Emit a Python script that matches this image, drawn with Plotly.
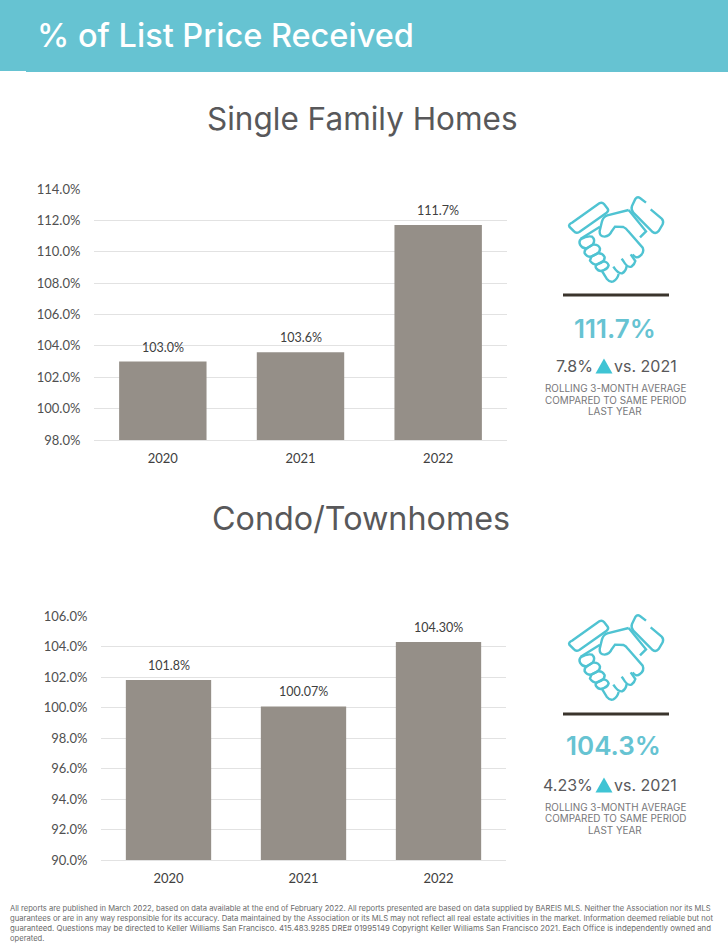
import plotly.graph_objects as go

W, H = 728, 949

# ---- data ----
years = ["2020", "2021", "2022"]
sfh_values = [103.0, 103.6, 111.7]
sfh_labels = ["103.0%", "103.6%", "111.7%"]
sfh_ticks = [98, 100, 102, 104, 106, 108, 110, 112, 114]
sfh_ticktext = ["98.0%", "100.0%", "102.0%", "104.0%", "106.0%", "108.0%", "110.0%", "112.0%", "114.0%"]
condo_values = [101.8, 100.07, 104.3]
condo_labels = ["101.8%", "100.07%", "104.30%"]
condo_ticks = [90, 92, 94, 96, 98, 100, 102, 104, 106]
condo_ticktext = ["90.0%", "92.0%", "94.0%", "96.0%", "98.0%", "100.0%", "102.0%", "104.0%", "106.0%"]

footer_lines = [
    "All reports are published in March 2022, based on data available at the end of February 2022. All reports presented are based on data supplied by BAREIS MLS. Neither the Association nor its MLS",
    "guarantees or are in any way responsible for its accuracy. Data maintained by the Association or its MLS may not reflect all real estate activities in the market. Information deemed reliable but not",
    "guaranteed. Questions may be directed to Keller Williams San Francisco. 415.483.9285 DRE# 01995149 Copyright Keller Williams San Francisco 2021. Each Office is independently owned and",
    "operated.",
]

TEAL = "#66C3D2"
ICON = "#4FC3D2"
GREY = "#58585A"
SMALL = "#77777A"
BAR = "#958F88"
GRID = "#E2E2E2"
HEAD = "Inter, 'Open Sans', sans-serif"
CHART = "Lato, 'Open Sans', sans-serif"


def px(x):
    return x / W


def py(y):
    return 1 - y / H


def dom_x(a, b):
    return [px(a), px(b)]


def dom_y(top, bottom):
    return [py(bottom), py(top)]


fig = go.Figure()
fig.add_trace(go.Bar(x=years, y=sfh_values, marker=dict(color=BAR), width=0.635,
                     xaxis="x", yaxis="y", showlegend=False, hoverinfo="skip"))
fig.add_trace(go.Bar(x=years, y=condo_values, marker=dict(color=BAR), width=0.632,
                     xaxis="x2", yaxis="y2", showlegend=False, hoverinfo="skip"))

annotations = []


def text(x, y, s, size, color=GREY, family=HEAD, xanchor="center", weight=None):
    f = dict(size=size, color=color, family=family)
    if weight:
        f["weight"] = weight
    annotations.append(dict(x=px(x), y=py(y), xref="paper", yref="paper", text=s, showarrow=False,
                            xanchor=xanchor, yanchor="middle", align="center", font=f))


for xa, ya, vals, labs in (("x", "y", sfh_values, sfh_labels), ("x2", "y2", condo_values, condo_labels)):
    for i, (v, l) in enumerate(zip(vals, labs)):
        annotations.append(dict(x=i, y=v, xref=xa, yref=ya, text=l, showarrow=False, yanchor="bottom",
                                yshift=5, font=dict(size=12.5, color="#404040", family=CHART)))

text(35, 36, "% of List Price Received", 32.5, "#FFFFFF", xanchor="left", weight=500)
text(362, 118, "Single Family Homes", 31.5)
text(361, 518, "Condo/Townhomes", 32.3)

text(615, 328, "111.7%", 26, TEAL, weight=600)
text(613, 745, "104.3%", 26, TEAL, weight=600)
text(595, 366, "7.8%", 16, xanchor="right")
text(612, 366, "vs. 2021", 16, xanchor="left")
text(595, 785, "4.23%", 16, xanchor="right")
text(612, 785, "vs. 2021", 16, xanchor="left")
for cy in (0, 418.5):
    text(615, 388 + cy, "ROLLING 3-MONTH AVERAGE", 9.9, SMALL)
    text(615, 399.5 + cy, "COMPARED TO SAME PERIOD", 9.9, SMALL)
    text(615, 411.5 + cy, "LAST YEAR", 9.9, SMALL)

for y, line, fs in zip((908, 918, 928, 938), footer_lines, (7.6, 7.7, 7.8, 7.6)):
    text(8, y, line, fs, "#6A6A6A", xanchor="left")


def path_px(cmds, ox=0, oy=0, scale=1.0):
    out = []
    for c in cmds:
        letter = c[0]
        vals = c[1:]
        pts = []
        for i in range(0, len(vals), 2):
            pts.append(f"{px(ox + vals[i] * scale):.5f},{py(oy + vals[i + 1] * scale):.5f}")
        out.append(letter + " ".join(pts))
    return " ".join(out)


shapes = [
    dict(type="rect", xref="paper", yref="paper", x0=px(0), x1=px(26), y0=py(71), y1=py(0),
         fillcolor=TEAL, line_width=0, layer="below"),
    dict(type="rect", xref="paper", yref="paper", x0=px(26), x1=px(728), y0=py(72), y1=py(0),
         fillcolor=TEAL, line_width=0, layer="below"),
]

for y in (295, 714):
    shapes.append(dict(type="rect", xref="paper", yref="paper", x0=px(563), x1=px(669), y0=py(y + 1.5), y1=py(y - 1.5),
                       fillcolor="#3A342C", line_width=0))

for tx, ty in ((604, 366), (604, 785)):
    shapes.append(dict(type="path", xref="paper", yref="paper",
                       path=path_px([("M", tx - 8.5, ty + 7.5), ("L", tx, ty - 7.5), ("L", tx + 8.5, ty + 7.5), ("Z",)]),
                       fillcolor="#3FC4D4", line_width=0))

icon_paths = [
    [("M", 38, 79), ("L", 118, 22), ("Q", 126, 17, 132, 24), ("L", 143, 38), ("Q", 147, 45, 140, 50),
     ("L", 58, 108), ("Q", 48, 114, 42, 106), ("L", 28, 92), ("Q", 24, 85, 38, 79), ("Z",)],
    [("M", 258, 20), ("L", 240, 6), ("Q", 232, 1, 226, 9), ("L", 216, 30), ("Q", 212, 40, 220, 50),
     ("L", 278, 108), ("Q", 288, 115, 296, 105), ("L", 308, 85), ("Q", 312, 75, 305, 68), ("L", 272, 40)],
    [("M", 206, 42), ("L", 142, 58), ("Q", 130, 62, 126, 76), ("L", 119, 105), ("Q", 118, 122, 134, 122),
     ("Q", 149, 120, 155, 106), ("L", 165, 92), ("L", 190, 93), ("Q", 198, 96, 205, 106), ("L", 248, 155),
     ("Q", 254, 170, 240, 180), ("Q", 228, 190, 218, 175)],
    [("M", 206, 42), ("L", 258, 106), ("L", 240, 124)],
    [("M", 212, 175), ("L", 226, 195), ("Q", 224, 205, 214, 212), ("Q", 202, 216, 190, 195), ("L", 185, 188)],
    [("M", 200, 210), ("Q", 198, 226, 186, 232), ("Q", 174, 234, 160, 212)],
    [("M", 176, 234), ("Q", 172, 250, 160, 256), ("Q", 150, 260, 140, 248), ("L", 124, 222)],
    [("M", 62, 128), ("L", 120, 92)],
    [("M", 62, 130), ("Q", 82, 118, 96, 122), ("Q", 108, 132, 98, 146), ("L", 82, 156), ("Q", 68, 160, 60, 146), ("Q", 56, 136, 62, 130), ("Z",)],
    [("M", 82, 156), ("L", 98, 146), ("Q", 116, 144, 120, 158), ("Q", 120, 168, 110, 174), ("L", 94, 182), ("Q", 82, 184, 74, 172), ("Q", 72, 162, 82, 156), ("Z",)],
    [("M", 94, 182), ("L", 112, 172), ("Q", 128, 170, 134, 184), ("Q", 134, 194, 124, 200), ("L", 110, 206), ("Q", 98, 206, 90, 194), ("Z",)],
    [("M", 110, 206), ("L", 128, 196), ("Q", 142, 196, 146, 208), ("Q", 144, 218, 132, 222), ("Q", 118, 230, 108, 216), ("Q", 105, 210, 110, 206), ("Z",)],
]

for oy in (196, 614):
    for p in icon_paths:
        shapes.append(dict(type="path", xref="paper", yref="paper",
                           path=path_px(p, ox=560, oy=oy, scale=1 / 3),
                           line=dict(color=ICON, width=2.4)))

common_x = dict(type="category", categoryorder="array", categoryarray=years, automargin=False, showgrid=False,
                zeroline=False, showline=True, linecolor=GRID, linewidth=1, range=[-0.5, 2.5],
                ticks="outside", ticklen=6, tickcolor="rgba(0,0,0,0)",
                tickfont=dict(size=13, color="#404040", family=CHART))
common_y = dict(automargin=False, showgrid=True, gridcolor=GRID, gridwidth=1, zeroline=False, showline=False,
                tickmode="array", ticks="outside", ticklen=10, tickcolor="rgba(0,0,0,0)",
                tickfont=dict(size=13, color="#505050", family=CHART))

fig.update_layout(
    template="none",
    width=W, height=H, margin=dict(l=0, r=0, t=0, b=0, autoexpand=False), paper_bgcolor="white", plot_bgcolor="white",
    showlegend=False,
    xaxis=dict(domain=dom_x(94, 507), anchor="y", **common_x),
    yaxis=dict(domain=dom_y(189, 440), anchor="x", range=[98, 114], tickvals=sfh_ticks, ticktext=sfh_ticktext, **common_y),
    xaxis2=dict(domain=dom_x(101, 506), anchor="y2", **common_x),
    yaxis2=dict(domain=dom_y(616, 860), anchor="x2", range=[90, 106], tickvals=condo_ticks, ticktext=condo_ticktext, **common_y),
    annotations=annotations, shapes=shapes,
)

fig.write_html("out.html", config={"displayModeBar": False}, post_script="document.body.style.margin='0';")
